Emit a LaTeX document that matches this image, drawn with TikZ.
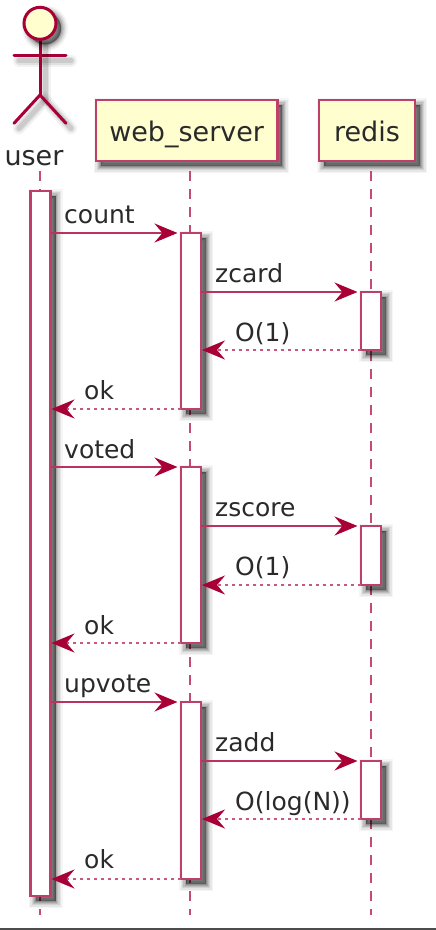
\documentclass[tikz,border=0pt]{standalone}
\usepackage{fontspec}
\setmainfont{DejaVu Sans}
\usetikzlibrary{arrows.meta,calc}
\definecolor{pred}{HTML}{A80036}
\definecolor{pyellow}{HTML}{FEFECE}
\definecolor{ptext}{HTML}{2A2A2A}
\tikzset{x=1pt,y=-1pt,
  softshadow/.style={
    preaction={draw=black,fill=black,opacity=.04,line width=14pt,transform canvas={shift={(5pt,-5pt)}}},
    preaction={draw=black,fill=black,opacity=.06,line width=11pt,transform canvas={shift={(5pt,-5pt)}}},
    preaction={draw=black,fill=black,opacity=.08,line width=8pt,transform canvas={shift={(5pt,-5pt)}}},
    preaction={draw=black,fill=black,opacity=.10,line width=5.5pt,transform canvas={shift={(5pt,-5pt)}}},
    preaction={draw=black,fill=black,opacity=.12,line width=3pt,transform canvas={shift={(5pt,-5pt)}}},
    preaction={draw=black,fill=black,opacity=.14,line width=1pt,transform canvas={shift={(5pt,-5pt)}}}},
  linesh/.style={
    preaction={draw=black,opacity=.05,line width=12pt,line cap=round,transform canvas={shift={(5pt,-5pt)}}},
    preaction={draw=black,opacity=.07,line width=8pt,line cap=round,transform canvas={shift={(5pt,-5pt)}}},
    preaction={draw=black,opacity=.09,line width=5pt,line cap=round,transform canvas={shift={(5pt,-5pt)}}}},
  partbox/.style={draw=pred!75!white,line width=2.6pt,fill=pyellow,softshadow,inner sep=0pt,outer sep=0pt,minimum height=61pt,
    font=\fontsize{27}{30}\selectfont,text=ptext,text height=22pt,text depth=0pt},
  activebar/.style={draw=pred!75!white,line width=2.6pt,fill=white,softshadow,inner sep=0pt,outer sep=0pt,minimum width=20pt},
  lifeline/.style={draw=pred!70!white,line width=2.3pt,dash pattern=on 10pt off 8pt},
  msg/.style={draw=pred!80!white,line width=2.5pt,shorten >=3.5pt,-{Stealth[length=23pt,width=19pt,inset=8pt,fill=pred,color=pred]}},
  reply/.style={draw=pred!65!white,line width=2.6pt,shorten >=1pt,dash pattern=on 3.5pt off 3.5pt,
    -{Stealth[length=23pt,width=19pt,inset=8pt,fill=pred,color=pred]}},
  msglabel/.style={anchor=base west,inner sep=0pt,font=\fontsize{25}{28}\selectfont,text=ptext},
  actorline/.style={draw=pred,line width=3pt,line cap=round}
}
\begin{document}
\begin{tikzpicture}
\useasboundingbox (0,0) rectangle (436,930);
\fill[white] (0,0) rectangle (436,930);
\fill[black!70] (0,927.5) rectangle (436,930);
% ends of lifelines
\coordinate (userTop) at (40,171);
\coordinate (userEnd) at (40,915);
\coordinate (webTop) at (190,171);
\coordinate (webEnd) at (190,915);
\coordinate (redisTop) at (370.7,171);
\coordinate (redisEnd) at (370.7,915);
% actor
\draw[actorline,linesh] (14,55.7) -- (66,55.7);
\draw[actorline,linesh] (40,40.7) -- (40,95) coordinate (hip);
\draw[actorline,linesh] (14,123.3) -- (hip) -- (66,123.3);
\node[circle,draw=pred,line width=3pt,fill=pyellow,softshadow,minimum size=32pt,inner sep=0pt] (head) at (40,23.3) {};
\node[anchor=base,inner sep=0pt,font=\fontsize{27}{30}\selectfont,text=ptext] (usr) at (34,165) {user};
% participants
\node[partbox,minimum width=181.5pt] (web) at (186.7,130.5) {web\_server};
\node[partbox,minimum width=96pt] (redis) at (367,130.5) {redis};
% lifelines
\draw[lifeline] (userTop) -- (userEnd);
\draw[lifeline] (webTop) -- (webEnd);
\draw[lifeline] (redisTop) -- (redisEnd);
% activation bars
\node[activebar,minimum height=705pt] (ubar) at (40.5,543.5) {};
\node[activebar,minimum height=176pt] (wa) at (191,321) {};
\node[activebar,minimum height=176pt] (wb) at (191,555) {};
\node[activebar,minimum height=177pt] (wc) at (191,790.5) {};
\node[activebar,minimum height=58pt] (ra) at (371,321) {};
\node[activebar,minimum height=59pt] (rb) at (371,555.5) {};
\node[activebar,minimum height=58pt] (rc) at (371,790) {};
% messages
\draw[msg] (ubar.east |- wa.north) -- (wa.north west);
\draw[msg] (wa.east |- ra.north) -- (ra.north west);
\draw[reply] (ra.south west) -- (wa.east |- ra.south);
\draw[reply] (wa.south west) -- (ubar.east |- wa.south);
\draw[msg] (ubar.east |- wb.north) -- (wb.north west);
\draw[msg] (wb.east |- rb.north) -- (rb.north west);
\draw[reply] (rb.south west) -- (wb.east |- rb.south);
\draw[reply] (wb.south west) -- (ubar.east |- wb.south);
\draw[msg] (ubar.east |- wc.north) -- (wc.north west);
\draw[msg] (wc.east |- rc.north) -- (rc.north west);
\draw[reply] (rc.south west) -- (wc.east |- rc.south);
\draw[reply] (wc.south west) -- (ubar.east |- wc.south);
% labels
\node[msglabel] (l1) at (64,223.5) {count};
\node[msglabel] (l2) at (215,282.5) {zcard};
\node[msglabel] (l3) at (235,341) {O(1)};
\node[msglabel] (l4) at (84,399.5) {ok};
\node[msglabel] (l5) at (64,458) {voted};
\node[msglabel] (l6) at (215,516.5) {zscore};
\node[msglabel] (l7) at (235,575.5) {O(1)};
\node[msglabel] (l8) at (84,634) {ok};
\node[msglabel] (l9) at (64,692.5) {upvote};
\node[msglabel] (l10) at (215,751) {zadd};
\node[msglabel] (l11) at (235,810) {O(log(N))};
\node[msglabel] (l12) at (84,868) {ok};
\end{tikzpicture}
\end{document}
